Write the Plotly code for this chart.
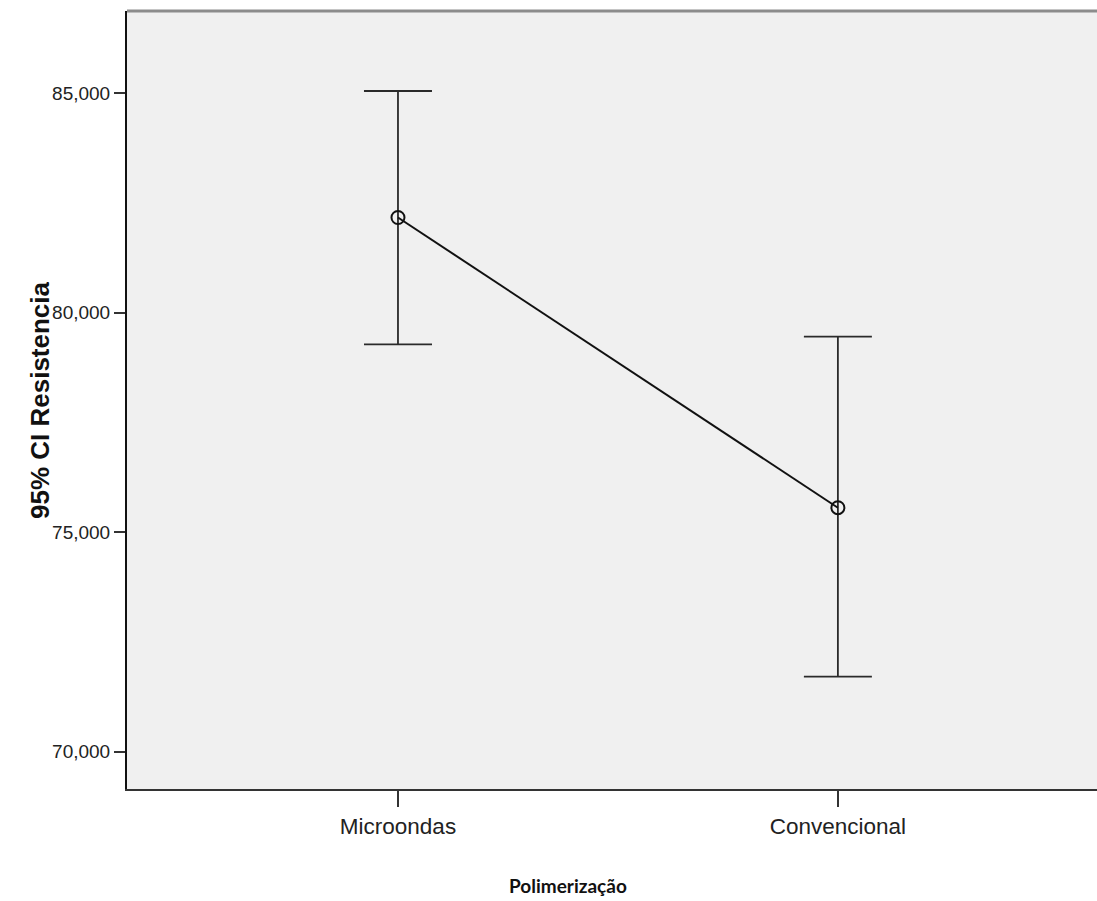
import plotly.graph_objects as go

# Mean resistance per polymerization method with 95% confidence limits
categories = ["Microondas", "Convencional"]
means = [82.170, 75.558]
ci_upper = [85.052, 79.454]
ci_lower = [79.281, 71.708]

y_ticks = [70, 75, 80, 85]

err_plus = [u - m for u, m in zip(ci_upper, means)]
err_minus = [m - l for m, l in zip(means, ci_lower)]

fig = go.Figure()
fig.add_trace(go.Scatter(
    x=categories,
    y=means,
    mode="lines+markers",
    line=dict(color="#111111", width=2),
    marker=dict(symbol="circle-open", size=13, color="#111111",
                line=dict(width=2, color="#111111")),
    error_y=dict(type="data", symmetric=False, array=err_plus,
                 arrayminus=err_minus, width=34, thickness=1.8,
                 color="#2a2a2a"),
    showlegend=False,
    hoverinfo="skip",
))

# light grey frame edge along the top of the plotting area
fig.add_shape(type="line", xref="paper", yref="paper", x0=0, x1=1, y0=1, y1=1,
              line=dict(color="#8c8c8c", width=3), layer="above")

fig.update_layout(
    width=1097, height=901,
    margin=dict(l=127, r=0, t=11, b=112),
    paper_bgcolor="white",
    plot_bgcolor="#f0f0f0",
    separators=",.",
    font=dict(family="Liberation Sans, Arial", color="#222222"),
    xaxis=dict(
        type="category",
        range=[-0.616, 1.589],
        showgrid=False, zeroline=False,
        showline=True, linecolor="#333333", linewidth=2,
        ticks="outside", ticklen=16, tickwidth=2, tickcolor="#333333",
        tickfont=dict(size=22.5, color="#222222"),
    ),
    yaxis=dict(
        range=[69.149, 86.875],
        tickvals=y_ticks,
        tickformat=".3f",
        showgrid=False, zeroline=False,
        showline=True, linecolor="#111111", linewidth=2,
        ticks="outside", ticklen=11, tickwidth=2, tickcolor="#333333",
        tickfont=dict(size=19, color="#222222"),
    ),
    annotations=[
        dict(text="<b>95% CI Resistencia</b>", xref="paper", yref="paper",
             x=-0.0897, y=0.5, xanchor="center", yanchor="middle",
             textangle=-90, showarrow=False,
             font=dict(family="Liberation Sans, Arial", size=26, color="#111111")),
        dict(text="<b>Polimerização</b>", xref="paper", yref="paper",
             x=0.4546, y=-0.1234, xanchor="center", yanchor="middle",
             showarrow=False,
             font=dict(family="Lato", size=19, color="#111111")),
    ],
)

fig.write_html("out.html")
